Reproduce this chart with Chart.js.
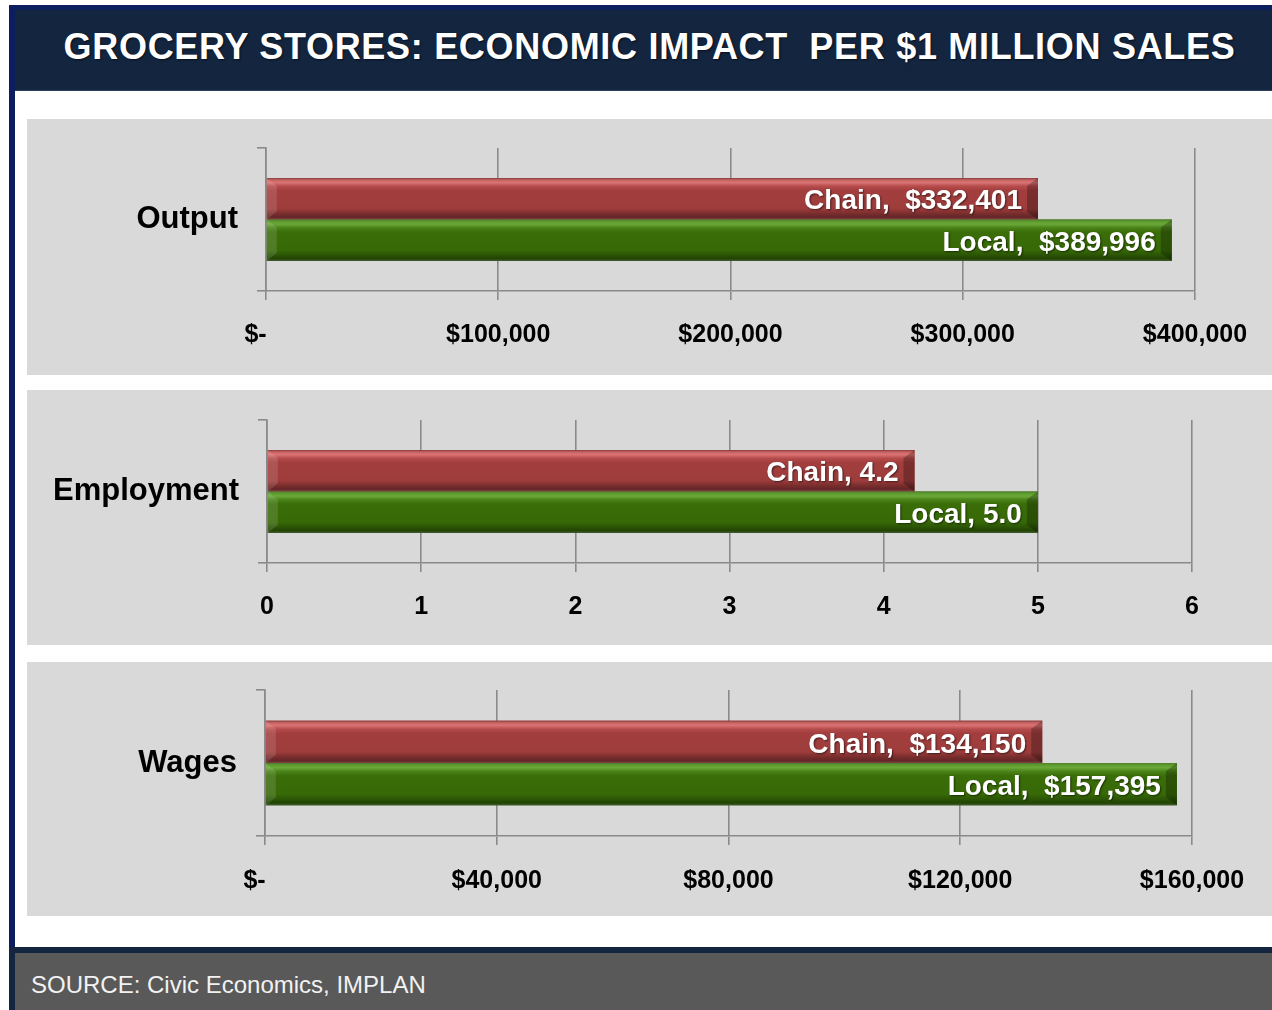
<!DOCTYPE html>
<html>
<head>
<meta charset="utf-8">
<script src="https://cdn.jsdelivr.net/npm/chart.js@4.4.1/dist/chart.umd.min.js"></script>
<style>
body { margin:0; width:1272px; height:1010px; background:#fff; position:relative; overflow:hidden; font-family:"Liberation Sans", Arial, sans-serif; }
.edge { position:absolute; background:#0b1f5e; }
.head { position:absolute; left:15px; top:10px; width:1257px; height:80px; background:#13253f; border-bottom:1px solid #2c3f5c; }
.head h1 { margin:0; color:#fff; font-size:36px; font-weight:bold; letter-spacing:0.7px; line-height:74px; text-align:center; padding-left:12px; text-shadow:1px 1px 2px rgba(0,0,0,0.6); white-space:pre; }
.panel { position:absolute; left:27px; width:1245px; background:#d9d9d9; }
.foot { position:absolute; left:9px; top:947px; width:1263px; height:63px; background:#13253f; }
.foot div { position:absolute; left:6px; top:6px; right:0; bottom:0; background:#595959; color:#f2f2f2; font-size:24px; padding-left:16px; line-height:64px; }
</style>
</head>
<body>
<div class="edge" style="left:9px;top:5px;width:1263px;height:5px"></div>
<div class="edge" style="left:9px;top:5px;width:6px;height:942px"></div>
<div class="head"><h1>GROCERY STORES: ECONOMIC IMPACT  PER $1 MILLION SALES</h1></div>

<div class="panel" style="top:119px;height:256px"><canvas id="c0" width="1245" height="256"></canvas></div>
<div class="panel" style="top:390px;height:255px"><canvas id="c1" width="1245" height="255"></canvas></div>
<div class="panel" style="top:662px;height:254px"><canvas id="c2" width="1245" height="254"></canvas></div>

<div class="foot"><div>SOURCE: Civic Economics, IMPLAN</div></div>

<script>
// ---------------- data ----------------
var categories = ['Output', 'Employment', 'Wages'];
var seriesNames = ['Chain', 'Local'];
var chainValues = [332401, 4.2, 134150];
var localValues = [389996, 5.0, 157395];
var outputTicks = ['$-   ', '$100,000', '$200,000', '$300,000', '$400,000'];
var employmentTicks = ['0', '1', '2', '3', '4', '5', '6'];
var wagesTicks = ['$-   ', '$40,000', '$80,000', '$120,000', '$160,000'];
var axisMax = [400000, 6, 160000];
var axisStep = [100000, 1, 40000];
var tickSets = [outputTicks, employmentTicks, wagesTicks];

// ------------- layout per panel -------------
var boxes = [
  {left: 239, right: 77, top: 29, bottom: 84, pad: 20},
  {left: 240, right: 80, top: 30, bottom: 82, pad: 20},
  {left: 238, right: 80, top: 28, bottom: 80, pad: 21}
];

var FONT = '"Liberation Sans", Arial, sans-serif';
var GRID = '#8a8a8a';

var shades = [
  [[0,'#8a3c3c'],[0.05,'#c86464'],[0.11,'#da7373'],[0.2,'#b54b4b'],[0.3,'#a33e3e'],[0.74,'#9e3c3c'],[0.85,'#7c2e2e'],[0.94,'#642626'],[1,'#7d4040']],
  [[0,'#4f7d2e'],[0.05,'#5f9c2e'],[0.11,'#6aa939'],[0.2,'#4b8219'],[0.3,'#3a6e08'],[0.74,'#376907'],[0.85,'#2c5605'],[0.94,'#224404'],[1,'#405c2e']]
];

function labelText(i, name, v) {
  if (i == 1) return name + ', ' + v.toFixed(1);
  return name + ',  $' + v.toLocaleString('en-US');
}

var bevel = {
  id: 'bevel',
  afterDatasetsDraw: function(chart) {
    var ctx = chart.ctx;
    var idx = chart.options.panelIndex;
    ctx.save();
    chart.data.datasets.forEach(function(ds, di) {
      var meta = chart.getDatasetMeta(di);
      meta.data.forEach(function(el, j) {
        var x0 = el.base, x1 = el.x, h = el.height, top = el.y - h / 2;
        var g = ctx.createLinearGradient(0, top, 0, top + h);
        shades[di].forEach(function(s) { g.addColorStop(s[0], s[1]); });
        ctx.fillStyle = g;
        ctx.fillRect(x0, top, x1 - x0, h);
        // right end bevel
        ctx.fillStyle = 'rgba(0,0,0,0.25)';
        ctx.beginPath();
        ctx.moveTo(x1 - 11, top + 8);
        ctx.lineTo(x1, top);
        ctx.lineTo(x1, top + h);
        ctx.lineTo(x1 - 11, top + h - 8);
        ctx.closePath();
        ctx.fill();
        // left end bevel
        ctx.fillStyle = 'rgba(255,255,255,0.12)';
        ctx.beginPath();
        ctx.moveTo(x0, top);
        ctx.lineTo(x0 + 10, top + 8);
        ctx.lineTo(x0 + 10, top + h - 8);
        ctx.lineTo(x0, top + h);
        ctx.closePath();
        ctx.fill();
        // value label
        ctx.font = 'bold 28px ' + FONT;
        ctx.textAlign = 'right';
        ctx.textBaseline = 'middle';
        ctx.shadowColor = 'rgba(0,0,0,0.55)';
        ctx.shadowOffsetX = 1;
        ctx.shadowOffsetY = 1;
        ctx.shadowBlur = 2;
        ctx.fillStyle = '#ffffff';
        ctx.fillText(labelText(idx, ds.label, ds.data[j]), x1 - 16, el.y + 3);
        ctx.shadowColor = 'transparent';
      });
    });
    ctx.restore();
  }
};

function makeChart(i) {
  var b = boxes[i];
  var ticks = tickSets[i];
  return new Chart(document.getElementById('c' + i), {
    type: 'bar',
    data: {
      labels: [categories[i]],
      datasets: [
        {label: seriesNames[0], data: [chainValues[i]], backgroundColor: '#a33e3e'},
        {label: seriesNames[1], data: [localValues[i]], backgroundColor: '#3a6e08'}
      ]
    },
    options: {
      panelIndex: i,
      indexAxis: 'y',
      responsive: false,
      animation: false,
      datasets: { bar: { barPercentage: 1, categoryPercentage: 0.58 } },
      layout: { padding: { top: b.top, right: b.right, left: 0, bottom: 0 } },
      plugins: { legend: { display: false }, tooltip: { enabled: false }, title: { display: false } },
      scales: {
        x: {
          min: 0, max: axisMax[i],
          afterFit: function(s) { s.height = b.bottom; },
          grid: { color: GRID, lineWidth: 1.6, tickLength: 9, tickColor: GRID },
          border: { color: GRID, width: 1.6 },
          ticks: {
            stepSize: axisStep[i], autoSkip: false, maxRotation: 0, padding: b.pad,
            color: '#000', font: { family: FONT, size: 25, weight: 'bold' },
            callback: function(v, k) { return ticks[k]; }
          }
        },
        y: {
          afterFit: function(s) { s.width = b.left; s.paddingTop = 0; s.paddingBottom = 0; },
          grid: { drawOnChartArea: false, tickLength: 9, color: GRID, lineWidth: 1.6, offset: true },
          border: { color: GRID, width: 1.6 },
          ticks: { padding: 19, color: '#000', font: { family: FONT, size: 31, weight: 'bold' } }
        }
      }
    },
    plugins: [bevel]
  });
}

makeChart(0);
makeChart(1);
makeChart(2);
</script>
</body>
</html>
